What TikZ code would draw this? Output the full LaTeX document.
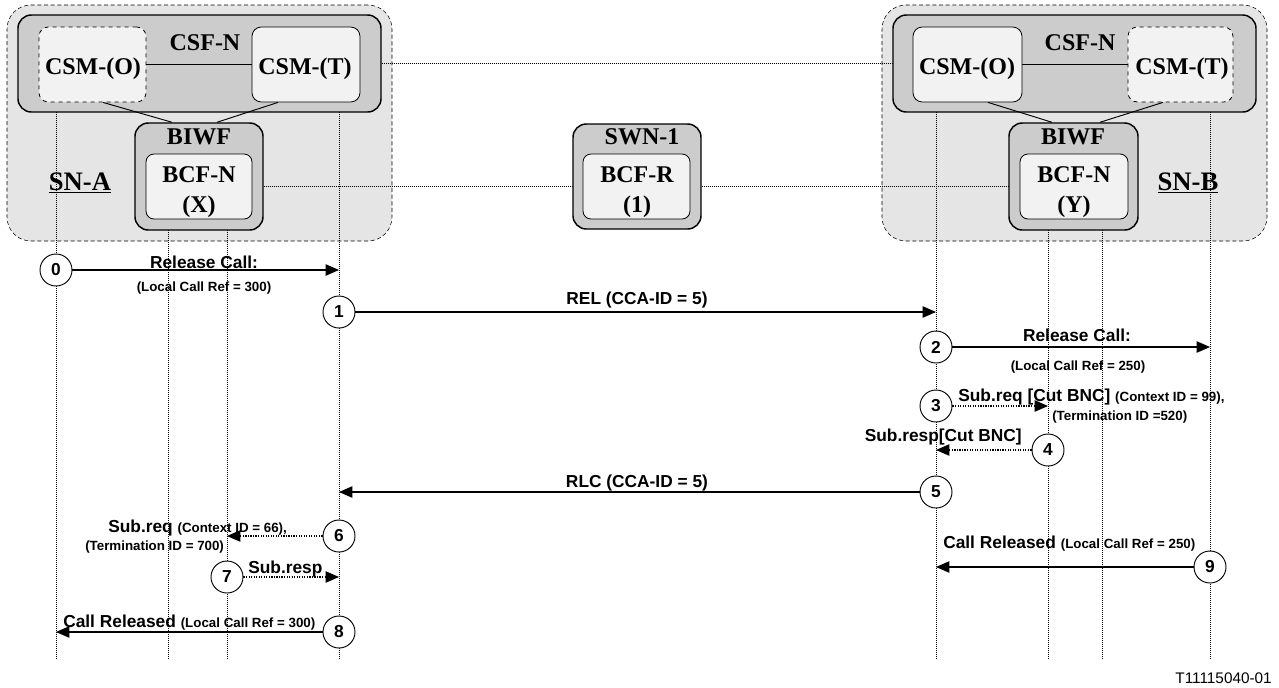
\documentclass[tikz,border=0pt]{standalone}
\usepackage{fontspec}
\setmainfont{Liberation Serif}
\setsansfont{Liberation Sans}
\usetikzlibrary{arrows.meta,fit,calc}
\definecolor{snfill}{gray}{0.9}
\definecolor{grpfill}{gray}{0.8}
\definecolor{boxfill}{gray}{0.95}
\newcommand{\refsize}[1]{{\fontsize{10}{12}\selectfont #1}}
\begin{document}
\begin{tikzpicture}[x=0.75pt, y=-0.75pt,
  snbox/.style={draw, densely dashed, thin, fill=snfill, rounded corners=18pt, inner sep=0pt},
  grpbox/.style={draw, line width=1.1pt, fill=grpfill, rounded corners=10pt, inner sep=0pt},
  fnbox/.style={draw, line width=0.6pt, fill=boxfill, rounded corners=7pt, inner sep=0pt},
  boxlbl/.style={font=\fontsize{18}{22.5}\selectfont\bfseries, align=center, inner sep=0pt},
  lifeline/.style={densely dotted, line width=0.5pt},
  link/.style={densely dotted, line width=0.5pt},
  num/.style={circle, draw, line width=0.7pt, fill=white, minimum size=24pt, inner sep=0pt, font=\sffamily\bfseries\fontsize{13}{13}\selectfont},
  msg/.style={-{Triangle[length=10pt,width=8.5pt]}, line width=0.9pt},
  submsg/.style={msg, densely dotted},
  big/.style={font=\sffamily\bfseries\fontsize{13}{15}\selectfont, inner sep=0pt},
  small/.style={font=\sffamily\bfseries\fontsize{10}{12}\selectfont, inner sep=0pt}]
\useasboundingbox (0,0) rectangle (1279,687);

% SN-A
\coordinate (a1) at (7,5);     \coordinate (a2) at (392,241);
\coordinate (a3) at (18,15);   \coordinate (a4) at (381,112);
\coordinate (a5) at (39,27);   \coordinate (a6) at (146,102);
\coordinate (a7) at (252,27);  \coordinate (a8) at (360,102);
\coordinate (a9) at (135,123); \coordinate (a10) at (263,230);
\coordinate (a11) at (146,154); \coordinate (a12) at (252,219);
\node[snbox, fit=(a1)(a2)] (snA) {};
\node[grpbox, fit=(a3)(a4)] (csfA) {};
\node[fnbox, dashed, fit=(a5)(a6)] (csmOA) {};
\node[fnbox, fit=(a7)(a8)] (csmTA) {};
\node[grpbox, fit=(a9)(a10)] (biwfA) {};
\node[fnbox, rounded corners=6pt, fit=(a11)(a12)] (bcfA) {};
\node[boxlbl] (csfAlbl) at (205,43) {CSF-N};
\node[boxlbl] (csmOAlbl) at (93,69) {CSM-(O)};
\node[boxlbl] (csmTAlbl) at (305,69) {CSM-(T)};
\node[boxlbl] (biwfAlbl) at (199,137) {BIWF};
\node[boxlbl] (bcfAlbl) at (199,192) {BCF-N\\(X)};
\node[boxlbl, font=\fontsize{20}{22.5}\selectfont\bfseries] (snAlbl) at (80,183) {\underline{SN-A}};
\draw[line width=0.7pt] (csmOA) -- (csmTA);
\draw[line width=0.7pt] ($(csmOA.south)+(10.5,0)$) -- ($(biwfA.north)+(-27,0)$);
\draw[line width=0.7pt] ($(csmTA.south)+(-28,0)$) -- ($(biwfA.north)+(18,0)$);

% SN-B
\coordinate (b1) at (882,5);    \coordinate (b2) at (1267,241);
\coordinate (b3) at (893,15);   \coordinate (b4) at (1256,112);
\coordinate (b5) at (913,27);   \coordinate (b6) at (1022,102);
\coordinate (b7) at (1128,27);  \coordinate (b8) at (1233,102);
\coordinate (b9) at (1009,123); \coordinate (b10) at (1138,230);
\coordinate (b11) at (1020,154); \coordinate (b12) at (1128,219);
\node[snbox, fit=(b1)(b2)] (snB) {};
\node[grpbox, fit=(b3)(b4)] (csfB) {};
\node[fnbox, fit=(b5)(b6)] (csmOB) {};
\node[fnbox, dashed, fit=(b7)(b8)] (csmTB) {};
\node[grpbox, fit=(b9)(b10)] (biwfB) {};
\node[fnbox, rounded corners=6pt, fit=(b11)(b12)] (bcfB) {};
\node[boxlbl] (csfBlbl) at (1080,43) {CSF-N};
\node[boxlbl] (csmOBlbl) at (967,69) {CSM-(O)};
\node[boxlbl] (csmTBlbl) at (1182,69) {CSM-(T)};
\node[boxlbl] (biwfBlbl) at (1073,137) {BIWF};
\node[boxlbl] (bcfBlbl) at (1074,192) {BCF-N\\(Y)};
\node[boxlbl, font=\fontsize{20}{22.5}\selectfont\bfseries] (snBlbl) at (1188,183) {\underline{SN-B}};
\draw[line width=0.7pt] (csmOB) -- (csmTB);
\draw[line width=0.7pt] ($(csmOB.south)+(20.5,0)$) -- ($(biwfB.north)+(-21.5,0)$);
\draw[line width=0.7pt] ($(csmTB.south)+(-17.5,0)$) -- ($(biwfB.north)+(26.5,0)$);

% SWN-1
\coordinate (s1) at (573,124); \coordinate (s2) at (701,229);
\coordinate (s3) at (583,154); \coordinate (s4) at (690,219);
\node[grpbox, fit=(s1)(s2)] (swn) {};
\node[fnbox, rounded corners=6pt, fit=(s3)(s4)] (bcfR) {};
\node[boxlbl] (swnlbl) at (642,137) {SWN-1};
\node[boxlbl] (bcfRlbl) at (637,192) {BCF-R\\(1)};

% links
\draw[link] (csfA.east) -- (csfB.west);
\draw[link] (biwfA.east |- bcfA.center) -- (swn.west |- bcfR.center);
\draw[link] (swn.east |- bcfR.center) -- (biwfB.west |- bcfB.center);

% lifelines
\coordinate (bot) at (0,660);
\coordinate (llA1) at (56,112);   \coordinate (llA2) at (168,230);
\coordinate (llA3) at (227,230);  \coordinate (llA4) at (339,112);
\coordinate (llB1) at (936,112);  \coordinate (llB2) at (1048,230);
\coordinate (llB3) at (1102,230); \coordinate (llB4) at (1210,112);
\foreach \l in {llA1,llA2,llA3,llA4,llB1,llB2,llB3,llB4}
  \draw[lifeline] (\l) -- (\l |- bot);

% messages
\node[num] (n0) at (56,270) {0};
\node[num] (n1) at (339,312) {1};
\node[num] (n2) at (936,347) {2};
\node[num] (n3) at (936,406) {3};
\node[num] (n4) at (1048,450) {4};
\node[num] (n5) at (936,492) {5};
\node[num] (n6) at (339,536) {6};
\node[num] (n7) at (227,577) {7};
\node[num] (n8) at (339,632) {8};
\node[num] (n9) at (1210,567) {9};
\draw[msg] (n0) -- (n0 -| llA4);
\draw[msg] (n1) -- (n1 -| llB1);
\draw[msg] (n2) -- (n2 -| llB4);
\draw[submsg] (n3) -- (n3 -| llB2);
\draw[submsg] (n4) -- (n4 -| llB1);
\draw[msg] (n5) -- (n5 -| llA4);
\draw[submsg] (n6) -- (n6 -| llA3);
\draw[submsg] (n7) -- (n7 -| llA4);
\draw[msg] (n8) -- (n8 -| llA1);
\draw[msg] (n9) -- (n9 -| llB1);

\node[big] (l0) at (204,262) {Release Call:};
\node[small] (l0b) at (204,288) {(Local Call Ref = 300)};
\node[big] (l1) at (637,300) {REL (CCA-ID = 5)};
\node[big] (l2) at (1077,335) {Release Call:};
\node[small] (l2b) at (1078,367) {(Local Call Ref = 250)};
\node[big, anchor=west] (l3) at (958,397) {Sub.req [Cut BNC] \refsize{(Context ID = 99),}};
\node[small, anchor=west] (l3b) at (1052,417) {(Termination ID =520)};
\node[big, anchor=east] (l4) at (1022,437) {Sub.resp[Cut BNC]};
\node[big] (l5) at (637,483) {RLC (CCA-ID = 5)};
\node[big, anchor=west] (l6) at (108,528) {Sub.req \refsize{(Context ID = 66),}};
\node[small, anchor=west] (l6b) at (85,547) {(Termination ID = 700)};
\node[big, anchor=west] (l7) at (248,569) {Sub.resp};
\node[big, anchor=west] (l8) at (63,623) {Call Released \refsize{(Local Call Ref = 300)}};
\node[big, anchor=west] (l9) at (943,544) {Call Released \refsize{(Local Call Ref = 250)}};

\node[font=\sffamily\fontsize{11.5}{13}\selectfont, anchor=east, inner sep=0pt] (tag) at (1272,678) {T11115040-01};
\end{tikzpicture}
\end{document}
